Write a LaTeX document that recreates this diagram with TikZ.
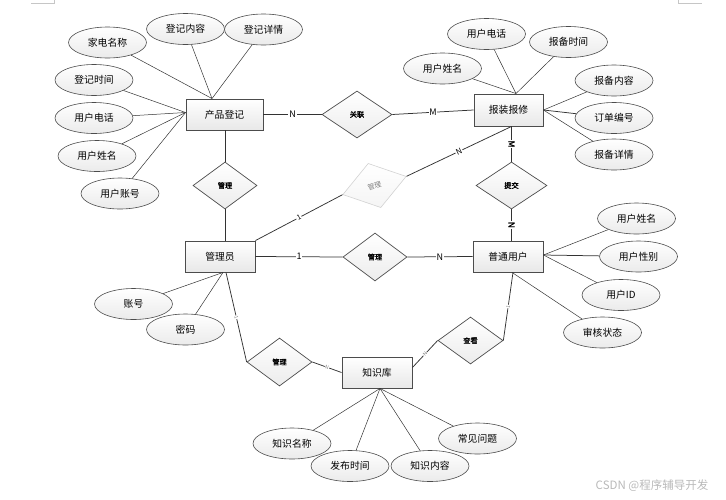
\documentclass[tikz,border=0pt]{standalone}
\usepackage{fontspec}
\newfontfamily\cjk{Noto Sans CJK SC}
\newfontfamily\cjkb[FakeBold=1.5]{Noto Sans CJK SC}
\usetikzlibrary{shapes.geometric,calc}
\tikzset{
 attr/.style={ellipse, draw=gray!60!black, line width=0.6pt, top color=white, bottom color=gray!16, minimum width=78pt, minimum height=31pt, inner sep=0pt, font=\cjk\fontsize{9.8}{11}\selectfont},
 ent/.style={rectangle, draw=gray!60!black, line width=0.9pt, top color=white, bottom color=gray!18, minimum width=70pt, minimum height=31pt, inner sep=0pt, font=\cjk\fontsize{9.8}{11}\selectfont},
 rel/.style={diamond, draw=gray!60!black, line width=0.7pt, top color=white, bottom color=gray!15, minimum width=65pt, minimum height=47pt, inner sep=0pt, font=\cjkb\fontsize{7.2}{8}\selectfont},
 lk/.style={draw=gray!40!black, line width=0.75pt},
 al/.style={draw=gray!40!black, line width=0.5pt},
 lab/.style={fill=white, inner sep=0.8pt, font=\cjk\fontsize{9}{10}\selectfont},
 slab/.style={fill=white, inner sep=0.4pt, text=gray, font=\cjk\fontsize{5}{6}\selectfont, sloped},
}
\begin{document}
\begin{tikzpicture}[x=1pt,y=-1pt]
\useasboundingbox (0,0) rectangle (726,499);
% page corner marks
\draw[gray!45, line width=0.4pt] (31,3) -- (54,3) -- (54,0);
\draw[gray!45, line width=0.4pt] (678,0) -- (678,3) -- (702,3);

% entities
\node[ent, minimum width=77pt] (pd) at (224.5,114.5) {产品登记};
\node[ent, minimum width=69pt, minimum height=32pt] (bx) at (508.5,110) {报装报修};
\node[ent] (gly) at (220,256.5) {管理员};
\node[ent] (pt) at (508,256.5) {普通用户};
\node[ent] (zk) at (377,372.5) {知识库};

% relationships
\node[rel, minimum width=70pt] (gl) at (357,114.5) {关联};
\node[rel, minimum width=64pt] (ga) at (225,185.5) {管理};
\node[rel, minimum width=71pt] (tj) at (511.5,185.5) {提交};
\node[rel, minimum width=64pt, minimum height=48pt] (gb) at (375,257) {管理};
\node[rel, minimum height=48pt] (gc) at (279.5,362) {管理};
\node[rel] (ck) at (470.5,340.5) {查看};
\node[rel, rotate=16, draw=gray!35, top color=white, bottom color=gray!8, text=gray, minimum width=66pt, minimum height=46pt, line width=0.6pt, font=\cjk\fontsize{7}{8}\selectfont] (gd) at (374.5,185.5) {管理};

% attributes of 产品登记
\node[attr] (a1) at (107.5,42.5) {家电名称};
\node[attr] (a2) at (185.5,29) {登记内容};
\node[attr] (a3) at (263.5,29.5) {登记详情};
\node[attr] (a4) at (94,80) {登记时间};
\node[attr] (a5) at (94,118) {用户电话};
\node[attr] (a6) at (97,156) {用户姓名};
\node[attr] (a7) at (120,193.5) {用户账号};
% attributes of 报装报修
\node[attr] (b1) at (486.5,34) {用户电话};
\node[attr] (b2) at (568.5,42) {报备时间};
\node[attr] (b3) at (442.5,68.5) {用户姓名};
\node[attr] (b4) at (614,80.5) {报备内容};
\node[attr] (b5) at (614,118) {订单编号};
\node[attr] (b6) at (614,154.5) {报备详情};
% attributes of 管理员
\node[attr] (c1) at (133.5,304) {账号};
\node[attr] (c2) at (185.5,329.5) {密码};
% attributes of 普通用户
\node[attr] (d1) at (636.5,218.5) {用户姓名};
\node[attr] (d2) at (638.5,256.5) {用户性别};
\node[attr] (d3) at (621,295) {用户ID};
\node[attr] (d4) at (602.5,332.5) {审核状态};
% attributes of 知识库
\node[attr] (e1) at (292,443.5) {知识名称};
\node[attr] (e2) at (350,466) {发布时间};
\node[attr] (e3) at (430,466) {知识内容};
\node[attr] (e4) at (477.5,438.5) {常见问题};

% attribute connectors
\coordinate (pdt) at ($(pd.north)+(-12.5,0)$);
\coordinate (pdl) at ($(pd.west)+(0,-2)$);
\draw[al] (a1) -- (pdt);
\draw[al] (a2) -- (pdt);
\draw[al] (a3) -- (pdt);
\draw[al] (a4) -- (pdl);
\draw[al] (a5) -- (pdl);
\draw[al] (a6) -- (pdl);
\draw[al] (a7) -- (pdl);

\coordinate (bxt) at ($(bx.north)+(7.5,0)$);
\draw[al] (b1) -- (bxt);
\draw[al] (b2) -- (bxt);
\draw[al] (b3) -- (bxt);
\draw[al] (b4) -- (bx.east);
\draw[lk] (b5) -- (bx.east);
\draw[al] (b6) -- (bx.east);

\coordinate (glyb) at ($(gly.south)+(3,0)$);
\draw[al] (c1) -- (glyb);
\draw[al] (c2) -- (glyb);

\coordinate (ptr) at ($(pt.east)+(0,-1.5)$);
\draw[al] (d1) -- (ptr);
\draw[lk] (d2) -- (ptr);
\draw[al] (d3) -- (ptr);
\draw[al] (d4) -- ($(pt.south)+(4,0)$);

\coordinate (zkb) at ($(zk.south)+(3,0)$);
\draw[al] (e1) -- (zkb);
\draw[al] (e2) -- (zkb);
\draw[al] (e3) -- (zkb);
\draw[al] (e4) -- (zkb);

% relationship connectors
\draw[lk] (pd.east) -- node[lab]{N} (gl.west);
\draw[lk] (gl.east) -- node[lab]{M} (bx.west);
\draw[lk] (pd.south -| ga.north) -- (ga.north);
\draw[lk] (ga.south) -- (ga.south |- gly.north);
\draw[lk] (gly.north east) -- node[lab, sloped, font=\cjk\fontsize{7}{8}\selectfont]{1} (gd.west);
\draw[lk] (gd.east) -- node[lab, sloped, font=\cjk\fontsize{8}{9}\selectfont]{N} (tj.north |- bx.south);
\draw[lk] (tj.north |- bx.south) -- node[lab, sloped, font=\cjkb\fontsize{8.5}{9}\selectfont]{M} (tj.north);
\draw[lk] (tj.south) -- node[lab, sloped, font=\cjkb\fontsize{8.5}{9}\selectfont]{N} (tj.south |- pt.north);
\draw[lk] (gly.east) -- node[lab]{1} (gb.west);
\draw[lk] (gb.east) -- node[lab]{N} (pt.west);
\draw[lk] ($(gly.south)+(6,0)$) -- node[slab]{1} (gc.west);
\draw[lk] (gc.east) -- node[slab]{N} (zk.west);
\draw[lk] ($(pt.south)+(5,0)$) -- node[slab]{1} (ck.east);
\draw[lk] (ck.west) -- node[slab]{N} ($(zk.east)+(0,-5)$);

% watermark
\node[text=gray!55, font=\cjk\fontsize{11.5}{13}\selectfont, inner sep=0pt] (wm) at (652,486) {CSDN @程序辅导开发};
\end{tikzpicture}
\end{document}
